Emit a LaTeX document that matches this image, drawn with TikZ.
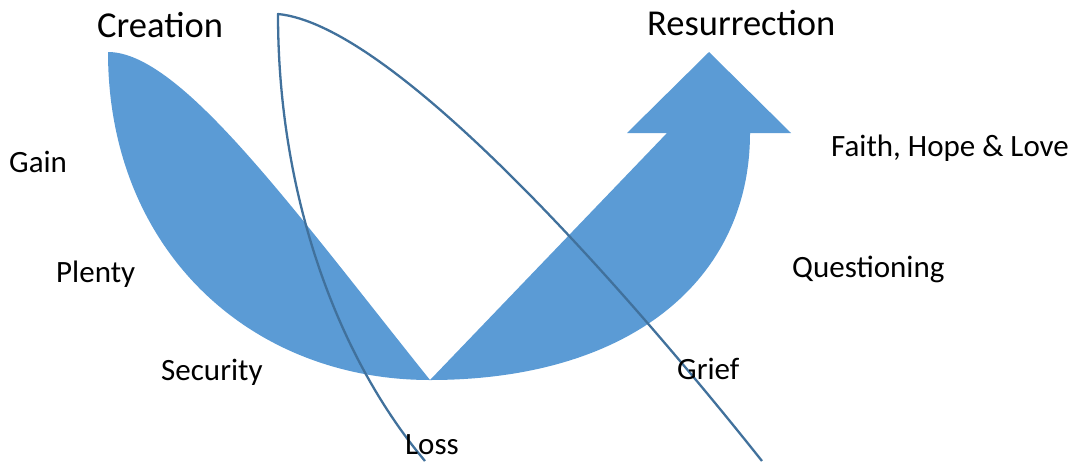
\documentclass[tikz,border=0pt]{standalone}
\usepackage{fontspec}
\setmainfont{Carlito}
\definecolor{arrowblue}{HTML}{5B9BD5}
\definecolor{linecol}{HTML}{41719C}
\tikzset{
  title/.style={anchor=base west, inner sep=0pt, font=\fontsize{36.5}{43}\selectfont},
  lbl/.style={anchor=base west, inner sep=0pt, font=\fontsize{31}{36}\selectfont},
  bigarrow/.style={fill=arrowblue, draw=none},
  thinline/.style={draw=linecol, line width=2.3pt, line join=round}
}
\begin{document}
\begin{tikzpicture}[x=1pt,y=-1pt]
\useasboundingbox (0,0) rectangle (1086,461);
% key points of the blue curved arrow
\coordinate (top) at (108,52);
\coordinate (vee) at (430,380);
\coordinate (shin) at (667,133);
\coordinate (headl) at (627,133);
\coordinate (tip) at (709,52);
\coordinate (headr) at (791,133);
\coordinate (shout) at (750,133);
\coordinate (bot) at (430,380);
\fill[bigarrow] (top) .. controls (180,52) and (290,205) .. (vee)
  -- (shin) -- (headl) -- (tip) -- (headr) -- (shout)
  .. controls (750,280) and (630,380) .. (bot)
  .. controls (250,380) and (108,250) .. (top) -- cycle;
% thin outline shape
\coordinate (apex) at (278,14);
\coordinate (lend) at (425,461);
\coordinate (rend) at (762,461);
\draw[thinline] (lend) .. controls (340,360) and (278,200) .. (apex)
  .. controls (390,25) and (610,270) .. (rend);
% labels
\node[title] (creation) at (97,37) {Creation};
\node[title] (resurrection) at (647,35) {Resurrection};
\node[lbl] (gain) at (9,172) {Gain};
\node[lbl] (plenty) at (56,282) {Plenty};
\node[lbl] (security) at (161,380) {Security};
\node[lbl] (loss) at (405,454) {Loss};
\node[lbl] (grief) at (677,379) {Grief};
\node[lbl] (questioning) at (792,277) {Questioning};
\node[lbl] (faith) at (831,156) {Faith, Hope \& Love};
\end{tikzpicture}
\end{document}
